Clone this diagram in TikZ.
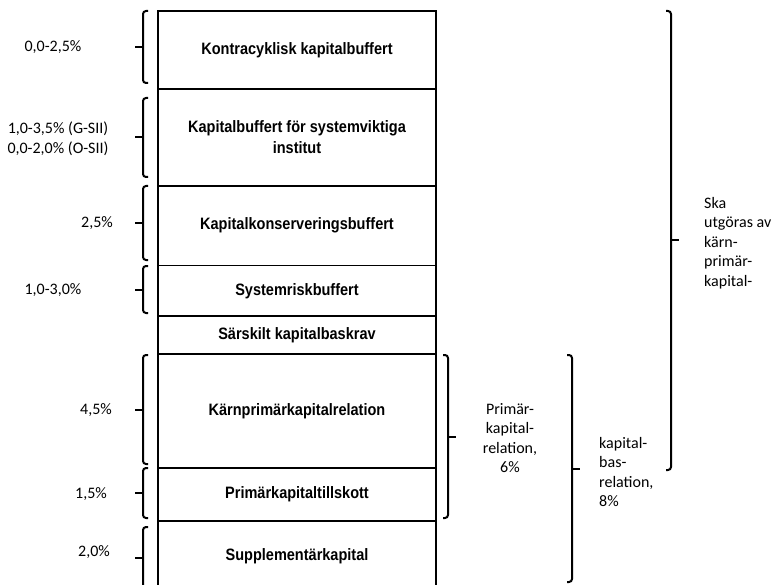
\documentclass[tikz,border=0pt]{standalone}
\usepackage{fontspec}
\setmainfont{Carlito}
\newfontfamily\boxfont[FakeStretch=0.88]{Liberation Sans}
\usepackage {tikz}
\usetikzlibrary {positioning}
\tikzset{
  lager/.style={draw=black, line width=1.4pt, minimum width=278pt, inner sep=0pt, outer sep=0pt, align=center, font=\boxfont\bfseries\fontsize{16.5}{21}\selectfont},
  klammer/.style={draw=black, line width=2pt, rounded corners=3pt},
  etikett/.style={font=\fontsize{16}{19.5}\selectfont, inner sep=0pt}
}
% brace: x of the hooks, top, bottom, hook direction (+1 opens right, -1 opens left)
\newcommand{\klammerbox}[4]{%
  \draw [klammer] (#1,#2) -- ++({-5*#4},0) -- ({#1-5*#4},#3) -- (#1,#3);
  \draw [klammer] ({#1-5*#4},{(#2+#3)/2}) -- ++({-8*#4},0);
}

\begin{document}
\begin{tikzpicture}[x=1pt, y=-1pt]
			 \useasboundingbox (0,0) rectangle (773,585);
			 % the stack of requirements
			 \node [lager, minimum height=78pt] (KONTRA) at (297,50) {Kontracyklisk kapitalbuffert};
			 \node [lager, minimum height=97pt] (SYSVIKT) [below=0pt of KONTRA] {Kapitalbuffert för systemviktiga\\institut};
			 \node [lager, minimum height=79.5pt] (KONS) [below=0pt of SYSVIKT] {Kapitalkonserveringsbuffert};
			 \node [lager, minimum height=50.5pt] (SYSRISK) [below=0pt of KONS] {Systemriskbuffert};
			 \node [lager, minimum height=38pt] (SARSKILT) [below=0pt of SYSRISK] {Särskilt kapitalbaskrav};
			 \node [lager, minimum height=114pt] (KARN) [below=0pt of SARSKILT] {Kärnprimärkapitalrelation};
			 \node [lager, minimum height=53pt] (TILLSKOTT) [below=0pt of KARN] {Primärkapitaltillskott};
			 \node [lager, minimum height=70pt] (SUPPL) [below=0pt of TILLSKOTT] {Supplementärkapital};
			 % braces on the left
			 \klammerbox{148}{11}{83}{1}
			 \klammerbox{148}{98}{177}{1}
			 \klammerbox{148}{186}{260}{1}
			 \klammerbox{148}{266}{313}{1}
			 \klammerbox{148}{355}{464}{1}
			 \klammerbox{148}{468}{518}{1}
			 \klammerbox{148}{527}{588}{1}
			 \node [etikett] (P1) at (53,47) {0,0-2,5\%};
			 \node [etikett, align=center] (P2) at (58,139) {1,0-3,5\% (G-SII)\\0,0-2,0\% (O-SII)};
			 \node [etikett] (P3) at (97,223) {2,5\%};
			 \node [etikett] (P4) at (53,290) {1,0-3,0\%};
			 \node [etikett] (P5) at (96,410) {4,5\%};
			 \node [etikett] (P6) at (91,494) {1,5\%};
			 \node [etikett] (P7) at (94,552) {2,0\%};
			 % braces on the right
			 \klammerbox{666}{11}{470}{-1}
			 \klammerbox{443}{355}{518}{-1}
			 \klammerbox{567}{355}{582}{-1}
			 \node [etikett, align=center] (PRIMAR) at (510,438) {Primär-\\kapital-\\relation,\\6\%};
			 \node [etikett, align=left, anchor=west] (KAPBAS) at (599,472) {kapital-\\bas-\\relation,\\8\%};
			 \node [etikett, align=left, anchor=west] (SKA) at (704,243) {Ska\\utgöras av\\kärn-\\primär-\\kapital-};
		\end{tikzpicture}
\end{document}
